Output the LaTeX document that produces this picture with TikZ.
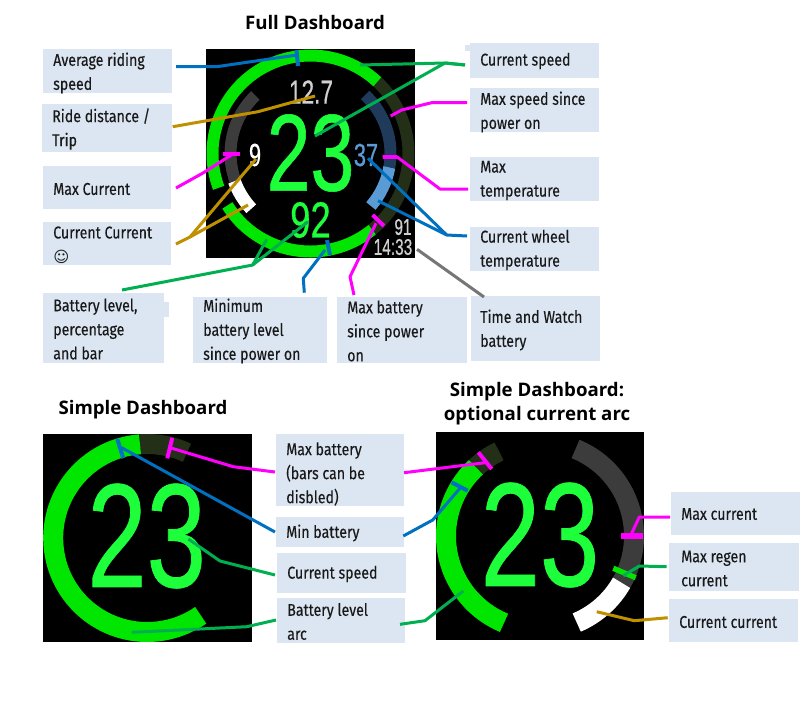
\documentclass[tikz,border=0pt]{standalone}
\usepackage{fontspec}
\setmainfont{Fira Sans}
\newfontfamily\din[FakeStretch=0.83,FakeBold=0.25]{Fira Sans}
\newfontfamily\dig[FakeStretch=0.72,FakeBold=0.5]{Liberation Sans}
\newfontfamily\digs[FakeStretch=0.68,FakeBold=0.5]{Liberation Sans}
\newfontfamily\ttl{Open Sans}
\newfontfamily\djv{DejaVu Sans}
\definecolor{boxc}{HTML}{DCE6F2}
\definecolor{ringg}{HTML}{00E600}
\definecolor{digg}{HTML}{1EFF3C}
\definecolor{darkg}{HTML}{232F17}
\definecolor{arcgray}{HTML}{3C3C3C}
\definecolor{darkb}{HTML}{1F3A5A}
\definecolor{lightb}{HTML}{5B9BD5}
\definecolor{lpink}{HTML}{FF00FF}
\definecolor{lblue}{HTML}{0070C0}
\definecolor{lgreen}{HTML}{00B050}
\definecolor{lgold}{HTML}{BF9000}
\definecolor{lgrey}{HTML}{767676}
\definecolor{digw}{HTML}{D0D0D0}
\tikzset{
  lbox/.style={fill=boxc,draw=none,inner sep=0pt},
  ltext/.style={anchor=west,inner sep=0pt,align=left,font=\din\fontsize{12.8}{18}\selectfont,text=black!90},
  title/.style={inner sep=0pt,align=center,font=\ttl\bfseries\fontsize{14}{18}\selectfont},
  conn/.style={line width=2.25pt,line join=round},
  cpink/.style={conn,draw=lpink},
  cblue/.style={conn,draw=lblue},
  cgreen/.style={conn,draw=lgreen},
  cgold/.style={conn,draw=lgold},
  cgrey/.style={conn,draw=lgrey},
  tick/.style={line width=3pt},
  face/.style={fill=black,draw=none},
  num/.style={inner sep=0pt}
}
% box: name, x0,y0,x1,y1, text x, text y, text
\newcommand{\lab}[8]{%
  \node[lbox,minimum width={(#4-#2)*0.75pt},minimum height={(#5-#3)*0.75pt}] (#1) at ({(#2+#4)/2},{(#3+#5)/2}) {};
  \node[ltext] (#1t) at (#6,#7) {#8};}
% ring segment: cx,cy,r,width,start,end,colour
\newcommand{\seg}[7]{%
  \pgfmathsetmacro{\rr}{#3*0.75}%
  \draw[#7,line width={#4*0.75pt}] ([shift={(#1,#2)}]#5:\rr pt) arc[start angle=#5,end angle=#6,radius=\rr pt];}
\begin{document}
\begin{tikzpicture}[x=0.75pt,y=-0.75pt]
\path[use as bounding box,fill=white] (0,0) rectangle (800,708);

% titles
\node[title] (t1) at (315,22) {Full Dashboard};
\node[title] (t2) at (143,410) {Simple Dashboard};
\node[title] (t3) at (537,404) {Simple Dashboard:\\optional current arc};

% small box artefacts
\fill[boxc] (465,45) rectangle (471,51);
\fill[boxc] (163,302) rectangle (169,317);

% labels
\lab{avg}{43}{49}{172}{93}{53}{73}{Average riding\\speed}
\lab{trip}{42}{104}{172}{152}{52}{129}{Ride distance /\\Trip}
\lab{maxc}{43}{166}{171}{209}{53}{189}{Max Current}
\lab{curc}{43}{222}{171}{265}{53}{245}{Current Current\\{\djv\fontsize{11.5}{18}\selectfont ☺}}
\lab{batt}{43}{293}{164}{363}{53}{329}{Battery level,\\percentage\\and bar}
\lab{minb}{193}{297}{327}{363}{203}{331}{Minimum\\battery level\\since power on}
\lab{maxb}{337}{297}{467}{363}{347}{331}{Max battery\\since power\\on}
\lab{cspd}{470}{43}{599}{78}{480}{61}{Current speed}
\lab{mspd}{470}{88}{599}{132}{480}{112}{Max speed since\\power on}
\lab{mtmp}{470}{157}{599}{201}{480}{180.5}{Max\\temperature}
\lab{wtmp}{470}{227}{599}{271}{480}{250}{Current wheel\\temperature}
\lab{time}{471}{296}{600}{361}{480}{330}{Time and Watch\\battery}
\lab{smaxb}{276}{434}{404}{506}{286}{474}{Max battery\\(bars can be\\disbled)}
\lab{sminb}{276}{517}{404}{547}{286}{533}{Min battery}
\lab{sspd}{277}{553}{406}{593}{287}{574}{Current speed}
\lab{sarc}{277}{598}{405}{643}{287}{621.5}{Battery level\\arc}
\lab{omax}{671}{492}{800}{535}{681}{514}{Max current}
\lab{oreg}{669}{543}{799}{591}{681}{568.5}{Max regen\\current}
\lab{ocur}{669}{599}{798}{642}{679}{622}{Current current}

% ---------- full dashboard
\fill[face] (206,49) rectangle (415,258);
\def\cx{310.5}\def\cy{153.5}
\seg{\cx}{\cy}{98}{12}{47}{-51}{darkg}
\seg{\cx}{\cy}{98}{12}{47}{200.5}{ringg}
\seg{\cx}{\cy}{98}{12}{212}{309}{ringg}
\seg{\cx}{\cy}{80}{12}{133.5}{200}{arcgray}
\seg{\cx}{\cy}{81}{13}{200}{223}{white}
\seg{\cx}{\cy}{80}{12}{47}{-10}{darkb}
\seg{\cx}{\cy}{80}{12}{-10}{-41}{lightb}
\node[num,text=digg,font=\dig\fontsize{82}{82}\selectfont] (spd) at (310.5,153) {23};
\node[num,text=digg,font=\dig\fontsize{38}{38}\selectfont] (pct) at (310.5,220) {92};
\node[num,text=digw,font=\digs\fontsize{25}{25}\selectfont] (trp) at (311,92) {12.7};
\node[num,text=white,font=\digs\fontsize{24}{24}\selectfont] (cur) at (255,155) {9};
\node[num,text=lightb,font=\digs\fontsize{24}{24}\selectfont] (tmp) at (366,155) {37};
\node[num,text=digw,font=\digs\fontsize{17}{17}\selectfont] (wb) at (403,227) {91};
\node[num,text=digw,font=\digs\fontsize{17}{17}\selectfont] (clk) at (393,247) {14:33};
% ticks
\draw[tick,lblue] (296.5,50) -- (298,66);
\draw[tick,lblue] (327,240) -- (330,255);
\draw[tick,lpink] (372.7,215) -- (384,226);
\draw[tick,lpink] (223,154) -- (240,154);
\draw[tick,lpink] (382.7,156.7) -- (396.7,156.7);

\coordinate (a1) at (176,66.7); \coordinate (a2) at (216.7,66.7); \coordinate (a3) at (297,55);
\draw[cblue] (a1) -- (a2) -- (a3);
\coordinate (b1) at (172.7,126.7); \coordinate (b2) at (258,111.7); \coordinate (b3) at (315,96);
\draw[cgold] (b1) -- (b2) -- (b3);
\coordinate (c1) at (176,188); \coordinate (c2) at (203,173); \coordinate (c3) at (233,154);
\draw[cpink] (c1) -- (c2) -- (c3);
\coordinate (d1) at (176,244); \coordinate (d2) at (190,237); \coordinate (d3) at (256,159); \coordinate (d4) at (248,205);
\draw[cgold] (d1) -- (d2) -- (d3); \draw[cgold] (d2) -- (d4);
\coordinate (e1) at (465,65); \coordinate (e2) at (445,63); \coordinate (e3) at (360,65); \coordinate (e4) at (315,136);
\draw[cgreen] (e1) -- (e2) -- (e3); \draw[cgreen] (e1) -- (e2) -- (e4);
\coordinate (f1) at (467,102.7); \coordinate (f2) at (431.7,102.7); \coordinate (f3) at (401.7,110); \coordinate (f4) at (390.7,116);
\draw[cpink] (f1) -- (f2) -- (f3) -- (f4);
\coordinate (g1) at (468,189); \coordinate (g2) at (440,189); \coordinate (g3) at (396.7,156.7); \coordinate (g4) at (382.7,156.7);
\draw[cpink] (g1) -- (g2) -- (g3) -- (g4);
\coordinate (h1) at (467,236); \coordinate (h2) at (446.7,235); \coordinate (h3) at (368,158.3); \coordinate (h4) at (378,200.7);
\draw[cblue] (h1) -- (h2) -- (h3); \draw[cblue] (h2) -- (h4);
\coordinate (i1) at (417,249.3); \coordinate (i2) at (484,297);
\draw[cgrey] (i1) -- (i2);
\coordinate (j1) at (122,290); \coordinate (j2) at (252.7,265); \coordinate (j3) at (266.7,239.3); \coordinate (j4) at (308,221.7);
\draw[cgreen] (j1) -- (j2) -- (j3); \draw[cgreen] (j2) -- (j4);
\coordinate (k1) at (304.3,292.7); \coordinate (k2) at (303.3,278.3); \coordinate (k3) at (325,250);
\draw[cblue] (k1) -- (k2) -- (k3);
\coordinate (l1) at (354,295); \coordinate (l2) at (350,276.7); \coordinate (l3) at (376,223.3);
\draw[cpink] (l1) -- (l2) -- (l3);

% ---------- simple dashboard
\fill[face] (43,434) rectangle (252,642);
\def\cx{147.2}\def\cy{538}
\seg{\cx}{\cy}{94}{20}{94.4}{65}{darkg}
\seg{\cx}{\cy}{94}{20}{94.4}{304.7}{ringg}
\node[num,text=digg,font=\dig\fontsize{111}{111}\selectfont] (spd2) at (146.7,536) {23};
\draw[tick,lpink] (172.3,437.7) -- (167.3,458.3);
\draw[tick,lblue] (117.3,439) -- (123.3,458.3);
\coordinate (m1) at (275,472); \coordinate (m2) at (233.3,466.7); \coordinate (m3) at (170,447.7);
\draw[cpink] (m1) -- (m2) -- (m3);
\coordinate (n1) at (275,532); \coordinate (n2) at (121.7,447.7);
\draw[cblue] (n1) -- (n2);
\coordinate (o1) at (275,575); \coordinate (o2) at (220,561); \coordinate (o3) at (188.3,539);
\draw[cgreen] (o1) -- (o2) -- (o3);
\coordinate (p1) at (276,620); \coordinate (p2) at (246.7,626.7); \coordinate (p3) at (131.7,632.3);
\draw[cgreen] (p1) -- (p2) -- (p3);

% ---------- optional current arc
\fill[face] (436,432) rectangle (644,640);
\def\cx{540}\def\cy{536}
\seg{\cx}{\cy}{94}{20}{133}{115.8}{darkg}
\seg{\cx}{\cy}{94}{20}{133}{247.5}{ringg}
\seg{\cx}{\cy}{94}{20}{67.8}{-29.8}{arcgray}
\seg{\cx}{\cy}{94}{20}{-29.8}{-67}{white}
\node[num,text=digg,font=\dig\fontsize{111}{111}\selectfont] (spd3) at (540,535) {23};
\draw[tick,lpink] (478.3,452.3) -- (491.7,469);
\draw[tick,lblue] (451.7,482.3) -- (467.7,490.7);
\draw[line width=4pt,ringg] (613.3,568.3) -- (635.7,577.7);
\draw[line width=5pt,lpink] (621,536) -- (643.3,536);
\coordinate (q1) at (670,517); \coordinate (q2) at (639.3,517); \coordinate (q3) at (631.7,533.3);
\draw[cpink] (q1) -- (q2) -- (q3);
\coordinate (r1) at (666.7,566.7); \coordinate (r2) at (639.3,566); \coordinate (r3) at (623.3,575.7);
\draw[cgreen] (r1) -- (r2) -- (r3);
\coordinate (s1) at (667.7,617.7); \coordinate (s2) at (634.3,620.7); \coordinate (s3) at (596.7,611.7);
\draw[cgold] (s1) -- (s2) -- (s3);
\coordinate (u1) at (404,472.7); \coordinate (u2) at (488.3,462.3);
\draw[cpink] (u1) -- (u2);
\coordinate (v1) at (403.3,536); \coordinate (v2) at (432.7,520); \coordinate (v3) at (460,488.3);
\draw[cblue] (v1) -- (v2) -- (v3);
\coordinate (w1) at (400,624.3); \coordinate (w2) at (425,620.7); \coordinate (w3) at (463.3,591);
\draw[cgreen] (w1) -- (w2) -- (w3);
\end{tikzpicture}
\end{document}
